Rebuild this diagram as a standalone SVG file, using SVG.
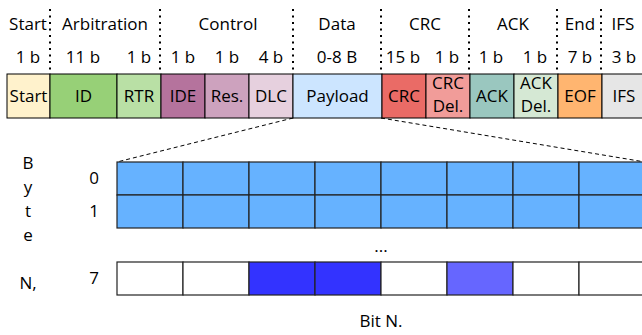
<svg xmlns="http://www.w3.org/2000/svg" width="642" height="335" viewBox="0 0 642 335">
<style>
text{font-family:"Open Sans","Noto Sans","DejaVu Sans",sans-serif;font-size:17px;fill:#000;text-anchor:middle}
.f{stroke:#000;stroke-width:1}
.sep{stroke:#000;stroke-width:2;stroke-dasharray:2 4.5;fill:none}
.dash{stroke:#000;stroke-width:1;stroke-dasharray:4 3;fill:none}
.cell{stroke:#222;stroke-width:1.2}
</style>
<rect width="642" height="335" fill="#fff"/>
<g id="headers">
<text x="28" y="30">Start</text>
<text x="105" y="30">Arbitration</text>
<text x="228" y="30">Control</text>
<text x="337" y="30">Data</text>
<text x="425" y="30">CRC</text>
<text x="513" y="30">ACK</text>
<text x="580" y="30">End</text>
<text x="623" y="30">IFS</text>
<text x="28" y="63">1 b</text>
<text x="83" y="63">11 b</text>
<text x="139" y="63">1 b</text>
<text x="183" y="63">1 b</text>
<text x="227" y="63">1 b</text>
<text x="271" y="63">4 b</text>
<text x="337" y="63">0-8 B</text>
<text x="403" y="63">15 b</text>
<text x="447" y="63">1 b</text>
<text x="491" y="63">1 b</text>
<text x="535" y="63">1 b</text>
<text x="580" y="63">7 b</text>
<text x="624" y="63">3 b</text>
</g>
<g id="separators">
<line class="sep" x1="50" y1="9" x2="50" y2="74"/>
<line class="sep" x1="160" y1="9" x2="160" y2="74"/>
<line class="sep" x1="293" y1="9" x2="293" y2="74"/>
<line class="sep" x1="381" y1="9" x2="381" y2="74"/>
<line class="sep" x1="469" y1="9" x2="469" y2="74"/>
<line class="sep" x1="557" y1="9" x2="557" y2="74"/>
<line class="sep" x1="601" y1="9" x2="601" y2="74"/>
</g>
<g id="connectors">
<line class="dash" x1="293" y1="118" x2="117" y2="162"/>
<line class="dash" x1="381" y1="118" x2="645" y2="162"/>
</g>
<g id="n-start"><rect class="f" x="7" y="74" width="43" height="44" fill="#fff2cc"/><text x="28.5" y="102">Start</text></g>
<g id="n-id"><rect class="f" x="50" y="74" width="67" height="44" fill="#97d077"/><text x="83.5" y="102">ID</text></g>
<g id="n-rtr"><rect class="f" x="117" y="74" width="44" height="44" fill="#b9e0a5"/><text x="139" y="102">RTR</text></g>
<g id="n-ide"><rect class="f" x="161" y="74" width="44" height="44" fill="#b5739d"/><text x="183" y="102">IDE</text></g>
<g id="n-res"><rect class="f" x="205" y="74" width="44" height="44" fill="#cda2be"/><text x="227" y="102">Res.</text></g>
<g id="n-dlc"><rect class="f" x="249" y="74" width="44" height="44" fill="#e6d0de"/><text x="271" y="102">DLC</text></g>
<g id="n-payload"><rect class="f" x="293" y="74" width="89" height="44" fill="#cce5ff"/><text x="337.5" y="102">Payload</text></g>
<g id="n-crc"><rect class="f" x="382" y="74" width="44" height="44" fill="#ea6b66"/><text x="404" y="102">CRC</text></g>
<g id="n-crcdel"><rect class="f" x="426" y="74" width="44" height="44" fill="#f19c99"/><text x="448" y="89">CRC</text><text x="448" y="112">Del.</text></g>
<g id="n-ack"><rect class="f" x="470" y="74" width="44" height="44" fill="#9ac7bf"/><text x="492" y="102">ACK</text></g>
<g id="n-ackdel"><rect class="f" x="514" y="74" width="44" height="44" fill="#d5e8d4"/><text x="536" y="89">ACK</text><text x="536" y="112">Del.</text></g>
<g id="n-eof"><rect class="f" x="558" y="74" width="44" height="44" fill="#ffb570"/><text x="580" y="102">EOF</text></g>
<g id="n-ifs"><rect class="f" x="602" y="74" width="44" height="44" fill="#e6e6e6"/><text x="624" y="102">IFS</text></g>
<g id="byte-label">
<text x="28" y="169">B</text>
<text x="28" y="193">y</text>
<text x="28" y="217">t</text>
<text x="28" y="241">e</text>
<text x="28" y="289">N,</text>
</g>
<g id="row-labels">
<text x="94" y="184">0</text>
<text x="94" y="217">1</text>
<text x="94" y="284">7</text>
</g>
<g id="row0">
<rect class="cell" x="117" y="162" width="66" height="33" fill="#66b2ff"/>
<rect class="cell" x="183" y="162" width="66" height="33" fill="#66b2ff"/>
<rect class="cell" x="249" y="162" width="66" height="33" fill="#66b2ff"/>
<rect class="cell" x="315" y="162" width="66" height="33" fill="#66b2ff"/>
<rect class="cell" x="381" y="162" width="66" height="33" fill="#66b2ff"/>
<rect class="cell" x="447" y="162" width="66" height="33" fill="#66b2ff"/>
<rect class="cell" x="513" y="162" width="66" height="33" fill="#66b2ff"/>
<rect class="cell" x="579" y="162" width="66" height="33" fill="#66b2ff"/>
</g>
<g id="row1">
<rect class="cell" x="117" y="195" width="66" height="33" fill="#66b2ff"/>
<rect class="cell" x="183" y="195" width="66" height="33" fill="#66b2ff"/>
<rect class="cell" x="249" y="195" width="66" height="33" fill="#66b2ff"/>
<rect class="cell" x="315" y="195" width="66" height="33" fill="#66b2ff"/>
<rect class="cell" x="381" y="195" width="66" height="33" fill="#66b2ff"/>
<rect class="cell" x="447" y="195" width="66" height="33" fill="#66b2ff"/>
<rect class="cell" x="513" y="195" width="66" height="33" fill="#66b2ff"/>
<rect class="cell" x="579" y="195" width="66" height="33" fill="#66b2ff"/>
</g>
<g id="row7">
<rect class="cell" x="117" y="262" width="66" height="33" fill="#ffffff"/>
<rect class="cell" x="183" y="262" width="66" height="33" fill="#ffffff"/>
<rect class="cell" x="249" y="262" width="66" height="33" fill="#3333ff"/>
<rect class="cell" x="315" y="262" width="66" height="33" fill="#3333ff"/>
<rect class="cell" x="381" y="262" width="66" height="33" fill="#ffffff"/>
<rect class="cell" x="447" y="262" width="66" height="33" fill="#6666ff"/>
<rect class="cell" x="513" y="262" width="66" height="33" fill="#ffffff"/>
<rect class="cell" x="579" y="262" width="66" height="33" fill="#ffffff"/>
</g>
<g id="ellipsis"><text x="381" y="252">...</text></g>
<g id="bit-label"><text x="381" y="327">Bit N.</text></g>
</svg>
